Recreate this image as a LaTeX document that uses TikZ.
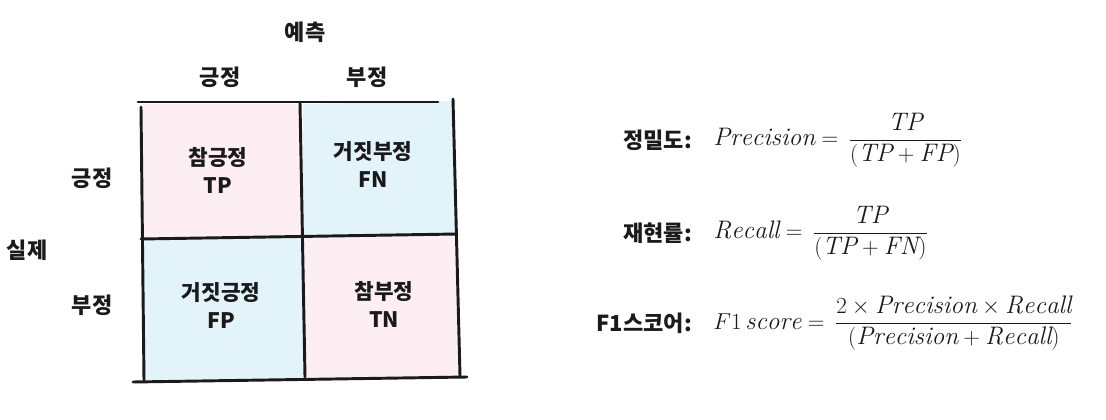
\documentclass[tikz,border=0pt]{standalone}
\usepackage{fontspec}
\newfontfamily\kr{Noto Sans CJK KR}
\usepackage{amsmath}
\definecolor{pinkc}{HTML}{FCEEF3}
\definecolor{bluec}{HTML}{E2F3FA}
\definecolor{ink}{HTML}{1A1A1A}
\begin{document}
\begin{tikzpicture}[x=0.75pt,y=-0.75pt,
  lab/.style={font=\kr\bfseries\fontsize{16.5}{20}\selectfont, text=ink, inner sep=0pt},
  cell/.style={font=\kr\bfseries\fontsize{16}{21}\selectfont, text=ink, align=center, inner sep=0pt},
  grid/.style={line width=2.2pt, draw=ink, line cap=round},
  frm/.style={font=\fontsize{19}{23}\selectfont, text=ink, inner sep=0pt, anchor=base west}]
\useasboundingbox (0,0) rectangle (1106,420);
\fill[white] (0,0) rectangle (1106,420);
% cell fills
\fill[pinkc] (143,104) -- (301,104) -- (303,237) -- (143,239) -- cycle;
\fill[bluec] (303,104) -- (454,101) -- (457,235) -- (303,237) -- cycle;
\fill[bluec] (143,239) -- (303,237) -- (304,378) -- (144,380) -- cycle;
\fill[pinkc] (303,237) -- (457,235) -- (460,377) -- (304,378) -- cycle;
% grid lines
\draw[grid] (138,102) -- (438,102);
\draw[grid] (453,99) -- (460,376);
\draw[grid] (141,107) -- (144,380);
\draw[grid] (300,103) -- (305,377);
\draw[grid] (141,239) -- (457,234);
\draw[grid] (133,382) -- (467,377);
% header labels
\node[lab] (pred) at (305,32) {예측};
\node[lab] (ppos) at (220,77) {긍정};
\node[lab] (pneg) at (367,77) {부정};
\node[lab] (actual) at (27,250) {실제};
\node[lab] (apos) at (92,178) {긍정};
\node[lab] (aneg) at (92,305) {부정};
% cells
\node[cell] (tp) at (218,170) {참긍정\\TP};
\node[cell] (fn) at (373,165) {거짓부정\\FN};
\node[cell] (fp) at (221,306) {거짓긍정\\FP};
\node[cell] (tn) at (384,304) {참부정\\TN};
% formulas
\node[lab, anchor=east] (l1) at (692,140) {정밀도:};
\node[frm] (f1) at (713,146) {$\mathit{Precision} = \,\dfrac{\mathit{TP}}{(\mathit{TP}+\mathit{FP})}$};
\node[lab, anchor=east] (l2) at (692,233) {재현률:};
\node[frm] (f2) at (713,239) {$\mathit{Recall} = \,\dfrac{\mathit{TP}}{(\mathit{TP}+\mathit{FN})}$};
\node[lab, anchor=east] (l3) at (692,323) {F1스코어:};
\node[frm] (f3) at (713,329) {$F1\,\mathit{score} = \,\dfrac{2\times \mathit{Precision}\times \mathit{Recall}}{(\mathit{Precision}+\mathit{Recall})}$};
\end{tikzpicture}
\end{document}
